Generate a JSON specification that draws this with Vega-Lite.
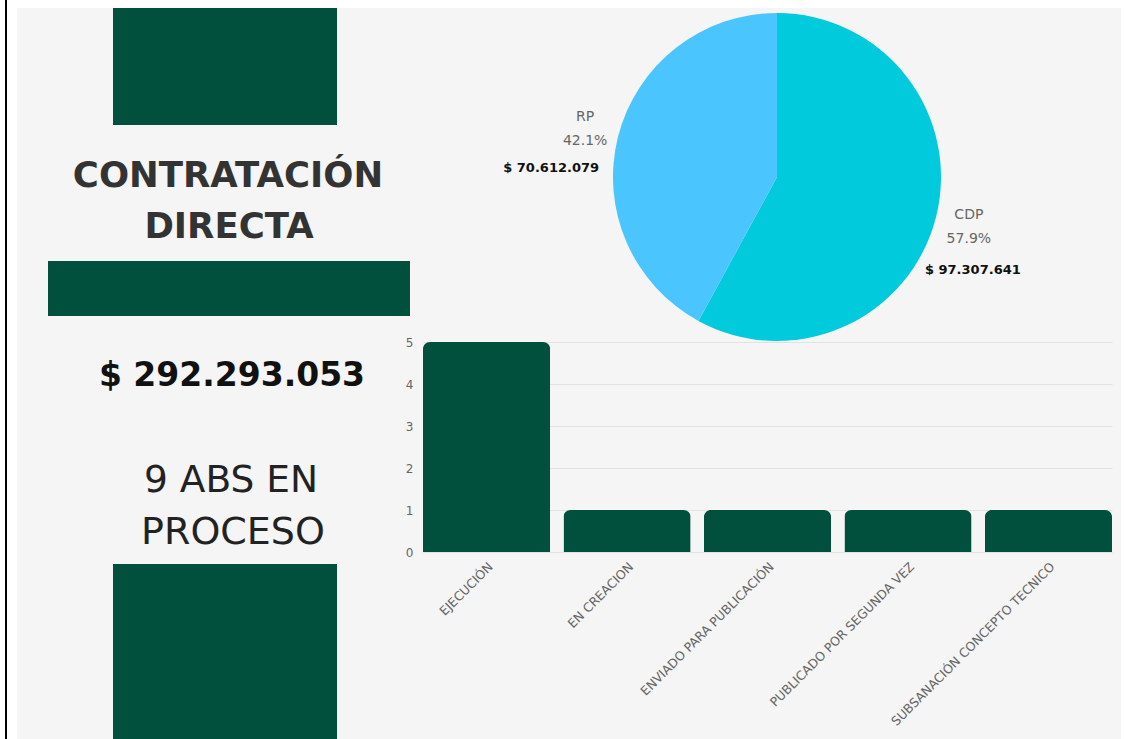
{
  "$schema": "https://vega.github.io/schema/vega-lite/v6.json",
  "width": 689,
  "height": 210,
  "autosize": {"type": "none"},
  "padding": {"left": 423, "top": 342, "right": 14, "bottom": 187},
  "background": "#f5f5f5",
  "config": {
    "view": {"stroke": null},
    "font": "DejaVu Sans",
    "locale": {"number": {"decimal": ",", "thousands": ".", "grouping": [3], "currency": ["$ ", ""]}}
  },
  "datasets": {
    "estados": [
      {"estado": "EJECUCIÓN", "cantidad": 5},
      {"estado": "EN CREACION", "cantidad": 1},
      {"estado": "ENVIADO PARA PUBLICACIÓN", "cantidad": 1},
      {"estado": "PUBLICADO POR SEGUNDA VEZ", "cantidad": 1},
      {"estado": "SUBSANACIÓN CONCEPTO TECNICO", "cantidad": 1}
    ],
    "fuentes": [
      {"fuente": "CDP", "valor": 97307641, "pct": "57.9%"},
      {"fuente": "RP", "valor": 70612079, "pct": "42.1%"}
    ],
    "one": [{}]
  },
  "layer": [
    {"data": {"name": "one"}, "mark": {"type": "rect", "color": "white"},
     "encoding": {"x": {"value": -423}, "x2": {"value": 703}, "y": {"value": -342}, "y2": {"value": -334}}},
    {"data": {"name": "one"}, "mark": {"type": "rect", "color": "white"},
     "encoding": {"x": {"value": -423}, "x2": {"value": -406}, "y": {"value": -342}, "y2": {"value": 397}}},
    {"data": {"name": "one"}, "mark": {"type": "rect", "color": "white"},
     "encoding": {"x": {"value": 698}, "x2": {"value": 703}, "y": {"value": -342}, "y2": {"value": 397}}},
    {"data": {"name": "one"}, "mark": {"type": "rect", "color": "black"},
     "encoding": {"x": {"value": -418}, "x2": {"value": -416}, "y": {"value": -342}, "y2": {"value": 397}}},
    {"data": {"name": "one"}, "mark": {"type": "rect", "color": "#00503D"},
     "encoding": {"x": {"value": -310}, "x2": {"value": -86}, "y": {"value": -334}, "y2": {"value": -217}}},
    {"data": {"name": "one"}, "mark": {"type": "rect", "color": "#00503D"},
     "encoding": {"x": {"value": -375}, "x2": {"value": -13}, "y": {"value": -81}, "y2": {"value": -26}}},
    {"data": {"name": "one"}, "mark": {"type": "rect", "color": "#00503D"},
     "encoding": {"x": {"value": -310}, "x2": {"value": -86}, "y": {"value": 222}, "y2": {"value": 397}}},
    {"data": {"name": "one"}, "mark": {"type": "text", "text": "CONTRATACIÓN", "fontWeight": "bold", "fontSize": 35.5, "color": "#333333", "align": "center", "baseline": "alphabetic"},
     "encoding": {"x": {"value": -195}, "y": {"value": -155}}},
    {"data": {"name": "one"}, "mark": {"type": "text", "text": "DIRECTA", "fontWeight": "bold", "fontSize": 35.5, "color": "#333333", "align": "center", "baseline": "alphabetic"},
     "encoding": {"x": {"value": -194}, "y": {"value": -104}}},
    {"data": {"name": "one"}, "mark": {"type": "text", "text": "$ 292.293.053", "fontWeight": "bold", "fontSize": 33, "color": "#111111", "align": "center", "baseline": "alphabetic"},
     "encoding": {"x": {"value": -191}, "y": {"value": 44}}},
    {"data": {"name": "one"}, "mark": {"type": "text", "text": "9 ABS EN", "fontSize": 37.5, "color": "#222222", "align": "center", "baseline": "alphabetic"},
     "encoding": {"x": {"value": -192}, "y": {"value": 150}}},
    {"data": {"name": "one"}, "mark": {"type": "text", "text": "PROCESO", "fontSize": 38, "color": "#222222", "align": "center", "baseline": "alphabetic"},
     "encoding": {"x": {"value": -190}, "y": {"value": 202}}},
    {"data": {"name": "fuentes"},
     "mark": {"type": "arc", "outerRadius": 164},
     "encoding": {
       "theta": {"field": "valor", "type": "quantitative", "stack": true},
       "color": {"field": "fuente", "type": "nominal", "scale": {"domain": ["CDP", "RP"], "range": ["#00CADC", "#4AC5FE"]}, "legend": null},
       "order": {"field": "fuente", "sort": "ascending"},
       "x": {"value": 354}, "y": {"value": -165}
     }},
    {"data": {"name": "fuentes"},
     "mark": {"type": "text", "radius": 198, "dy": -11, "fontSize": 14, "color": "#666666", "align": "center", "baseline": "middle"},
     "encoding": {
       "theta": {"field": "valor", "type": "quantitative", "stack": true},
       "detail": {"field": "fuente", "type": "nominal"},
       "order": {"field": "fuente", "sort": "ascending"},
       "text": {"field": "fuente", "type": "nominal"},
       "x": {"value": 354}, "y": {"value": -165}
     }},
    {"data": {"name": "fuentes"},
     "mark": {"type": "text", "radius": 198, "dy": 13, "fontSize": 14, "color": "#666666", "align": "center", "baseline": "middle"},
     "encoding": {
       "theta": {"field": "valor", "type": "quantitative", "stack": true},
       "detail": {"field": "fuente", "type": "nominal"},
       "order": {"field": "fuente", "sort": "ascending"},
       "text": {"field": "pct", "type": "nominal"},
       "x": {"value": 354}, "y": {"value": -165}
     }},
    {"data": {"name": "fuentes"},
     "mark": {"type": "text", "radius": 198, "dx": -34, "dy": 40, "fontSize": 13, "fontWeight": "bold", "color": "#111111", "align": "center", "baseline": "middle"},
     "encoding": {
       "theta": {"field": "valor", "type": "quantitative", "stack": true},
       "detail": {"field": "fuente", "type": "nominal"},
       "order": {"field": "fuente", "sort": "ascending"},
       "text": {"condition": {"test": "datum.fuente === 'RP'", "field": "valor", "type": "quantitative", "format": "$,.0f"}, "value": ""},
       "x": {"value": 354}, "y": {"value": -165}
     }},
    {"data": {"name": "fuentes"},
     "mark": {"type": "text", "radius": 198, "dx": 4, "dy": 44, "fontSize": 13, "fontWeight": "bold", "color": "#111111", "align": "center", "baseline": "middle"},
     "encoding": {
       "theta": {"field": "valor", "type": "quantitative", "stack": true},
       "detail": {"field": "fuente", "type": "nominal"},
       "order": {"field": "fuente", "sort": "ascending"},
       "text": {"condition": {"test": "datum.fuente === 'CDP'", "field": "valor", "type": "quantitative", "format": "$,.0f"}, "value": ""},
       "x": {"value": 354}, "y": {"value": -165}
     }},
    {"data": {"name": "estados"},
     "mark": {"type": "bar", "color": "#00503D", "cornerRadiusTopLeft": 7, "cornerRadiusTopRight": 7},
     "encoding": {
       "x": {"field": "estado", "type": "nominal", "sort": null,
             "scale": {"paddingInner": 0.095, "paddingOuter": 0},
             "axis": {"title": null, "labelAngle": -45, "labelFontSize": 12.5, "labelColor": "#666666", "ticks": false, "domain": false, "labelPadding": 8, "labelLimit": 400, "grid": false}},
       "y": {"field": "cantidad", "type": "quantitative",
             "scale": {"domain": [0, 5]},
             "axis": {"title": null, "values": [0, 1, 2, 3, 4, 5], "labelFontSize": 12, "labelColor": "#666666", "ticks": false, "domain": false, "labelPadding": 10, "gridColor": "#e2e2e2", "gridWidth": 1}}
     }}
  ]
}
